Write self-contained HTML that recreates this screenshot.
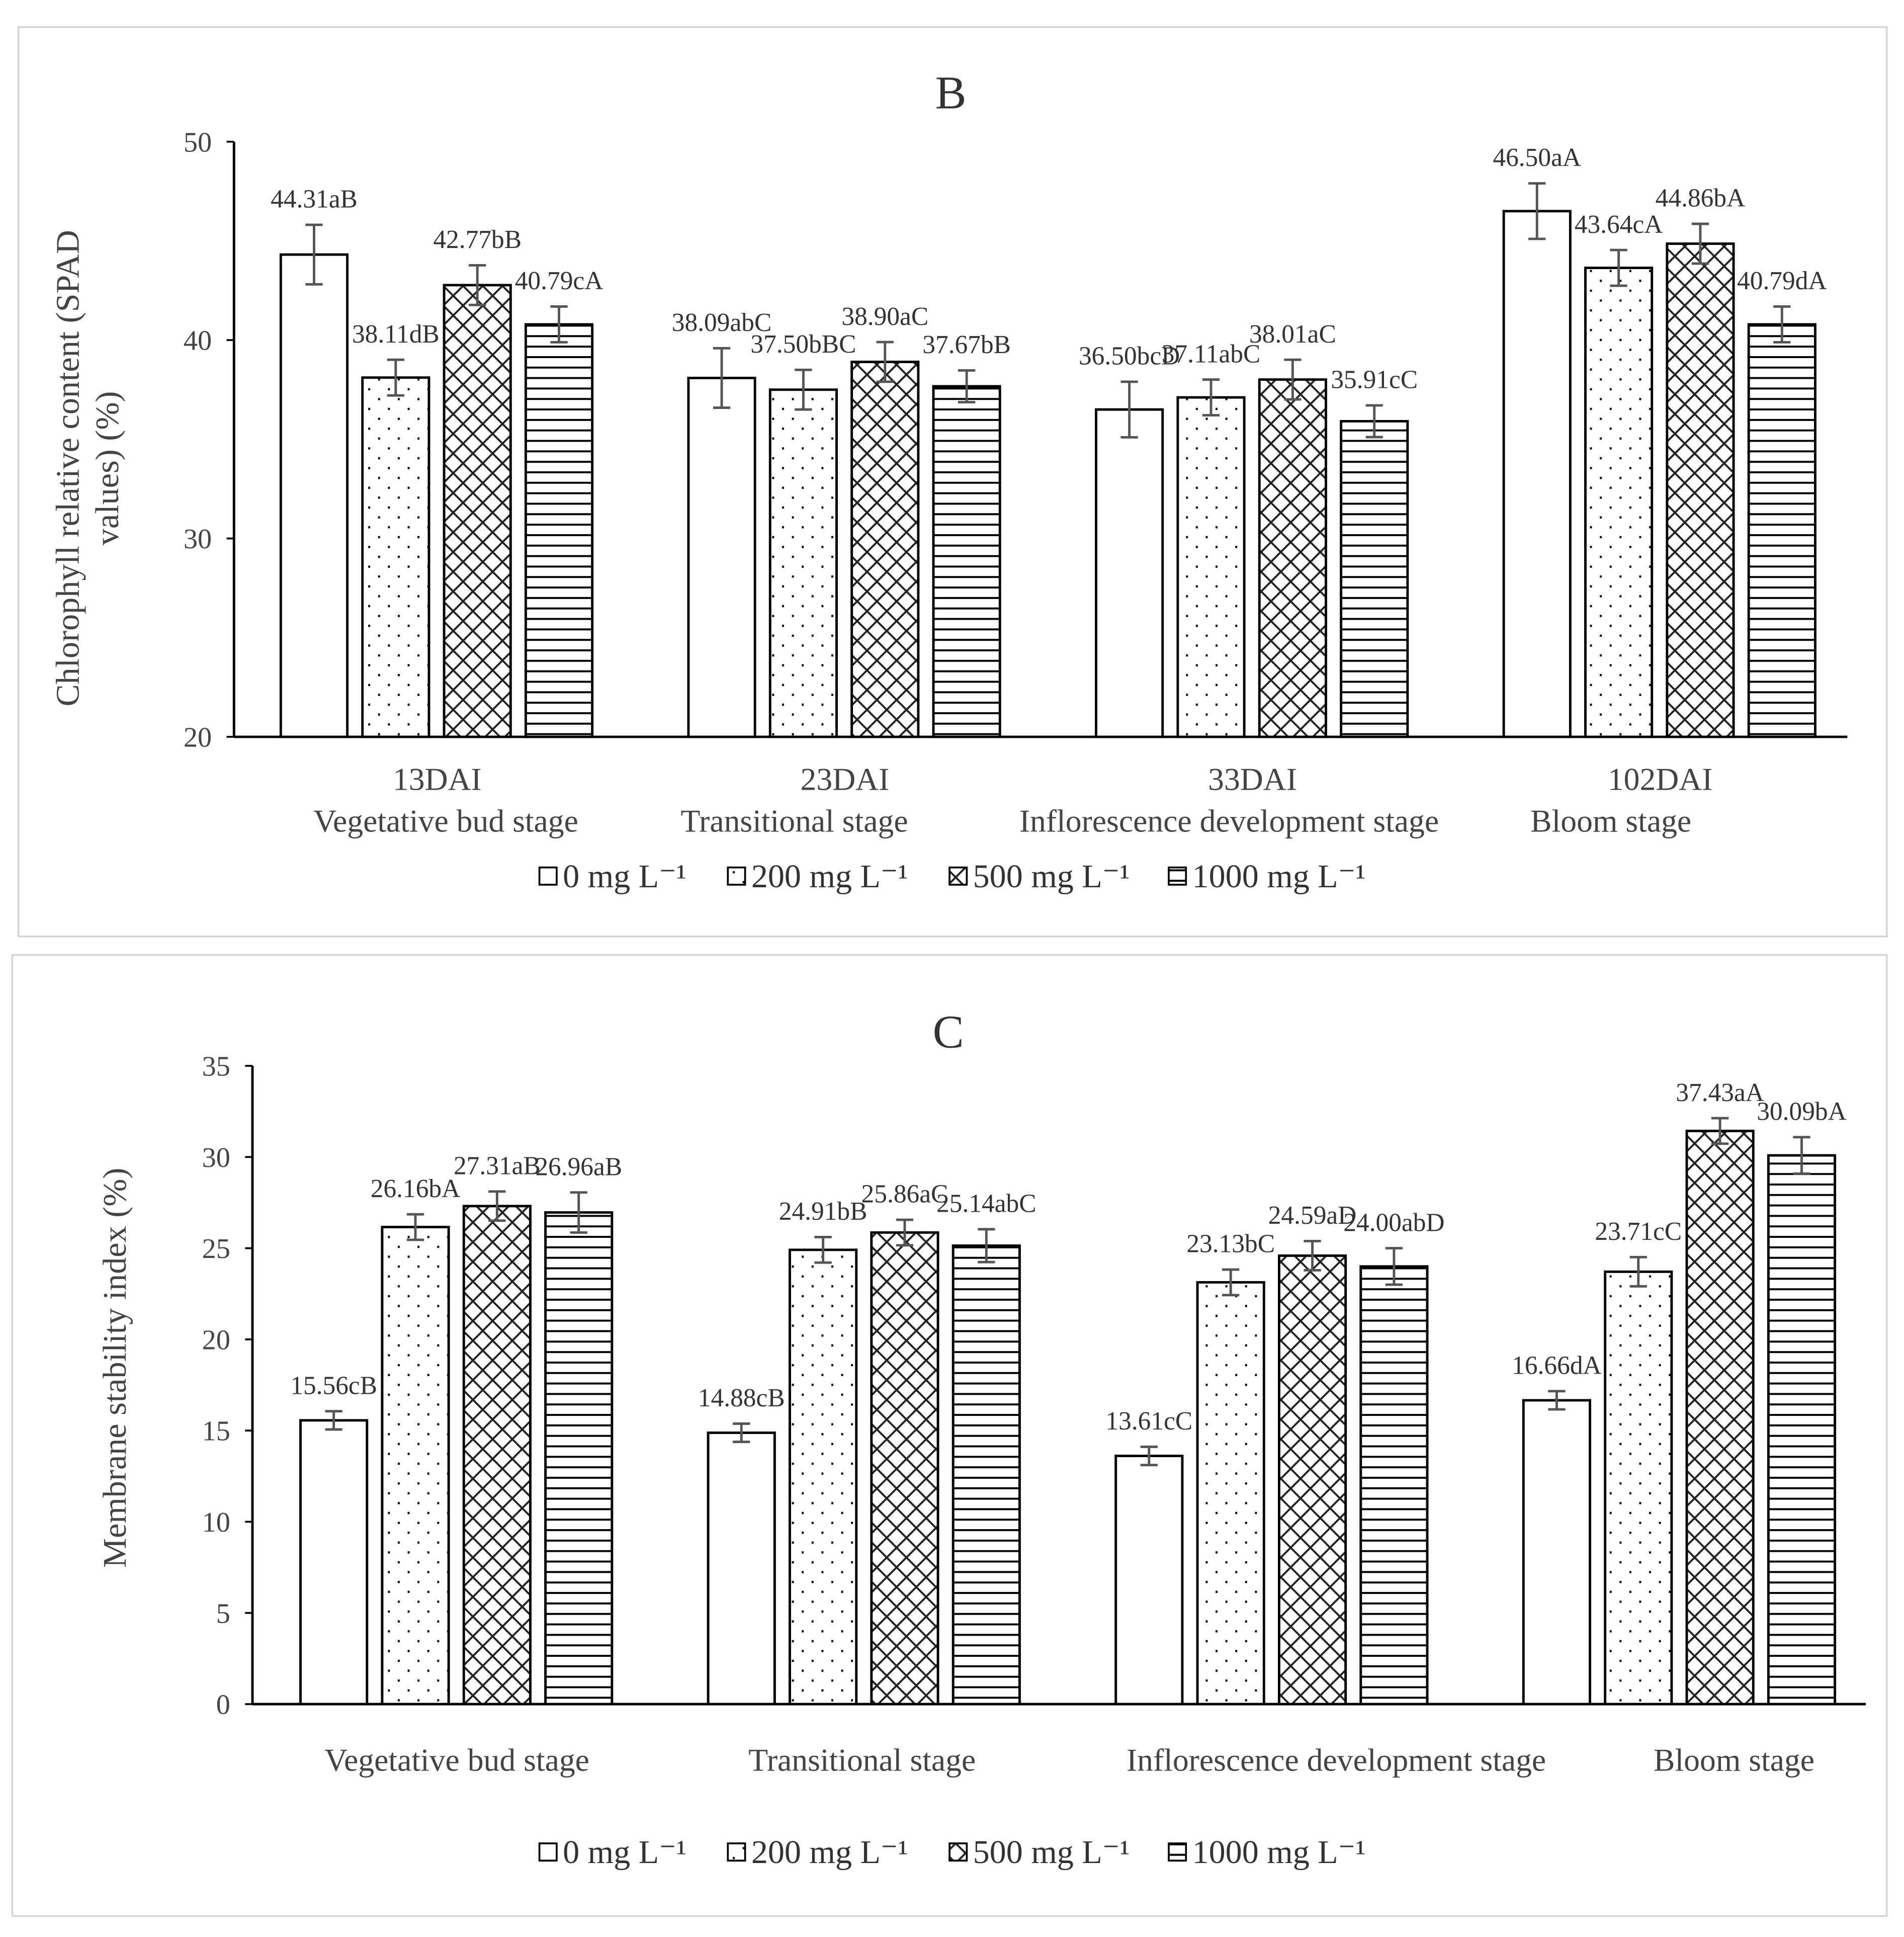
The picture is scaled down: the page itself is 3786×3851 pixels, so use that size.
<!DOCTYPE html>
<html><head><meta charset="utf-8"><style>
html,body{margin:0;padding:0;background:#fff}
svg{display:block}
text{font-family:"Liberation Serif",serif}
</style></head><body>
<svg id="s" width="3786" height="3851" viewBox="0 0 1546 1572" preserveAspectRatio="none" xmlns="http://www.w3.org/2000/svg">
<defs>
<pattern id="pDots" patternUnits="userSpaceOnUse" width="16" height="16"><rect width="16" height="16" fill="#fff"/><rect x="3" y="3" width="1.6" height="1.8" fill="#000"/><rect x="11" y="11" width="1.6" height="1.8" fill="#000"/></pattern>
<pattern id="pCross" patternUnits="userSpaceOnUse" width="16" height="16"><rect width="16" height="16" fill="#fff"/><path d="M0 0L16 16M16 0L0 16" stroke="#222" stroke-width="1.6"/></pattern>
<pattern id="pHor" patternUnits="userSpaceOnUse" width="8" height="8.5"><rect width="8" height="8.5" fill="#fff"/><rect y="0" width="8" height="1.6" fill="#000"/></pattern>
</defs>
<rect x="15" y="22" width="1517" height="738" fill="#fff" stroke="#d6d6d6" stroke-width="1.5"/>
<rect x="10" y="775" width="1522" height="780" fill="#fff" stroke="#d6d6d6" stroke-width="1.5"/>
<g id="gB"></g>
<g id="gC"></g>
</svg>
<script>
const seriesNames = ["0 mg L\u207B\u00B9","200 mg L\u207B\u00B9","500 mg L\u207B\u00B9","1000 mg L\u207B\u00B9"];
const fills = ["#fff","url(#pDots)","url(#pCross)","url(#pHor)"];
const catTopB = ["13DAI","23DAI","33DAI","102DAI"];
const catB = ["Vegetative bud stage","Transitional stage","Inflorescence development stage","Bloom stage"];
const valsB = [[44.31,38.11,42.77,40.79],[38.09,37.50,38.90,37.67],[36.50,37.11,38.01,35.91],[46.50,43.64,44.86,40.79]];
const errB = [[1.5,0.9,1.0,0.9],[1.5,1.0,1.0,0.8],[1.4,0.9,1.0,0.8],[1.4,0.9,1.0,0.9]];
const labB = [["44.31aB","38.11dB","42.77bB","40.79cA"],["38.09abC","37.50bBC","38.90aC","37.67bB"],["36.50bcD","37.11abC","38.01aC","35.91cC"],["46.50aA","43.64cA","44.86bA","40.79dA"]];
const ticksB = [20,30,40,50];
const catC = ["Vegetative bud stage","Transitional stage","Inflorescence development stage","Bloom stage"];
const valsC = [[15.56,26.16,27.31,26.96],[14.88,24.91,25.86,25.14],[13.61,23.13,24.59,24.00],[16.66,23.71,31.43,30.09]];
const errC = [[0.5,0.7,0.8,1.1],[0.5,0.7,0.7,0.9],[0.5,0.7,0.8,1.0],[0.5,0.8,0.7,1.0]];
const labC = [["15.56cB","26.16bA","27.31aB","26.96aB"],["14.88cB","24.91bB","25.86aC","25.14abC"],["13.61cC","23.13bC","24.59aD","24.00abD"],["16.66dA","23.71cC","37.43aA","30.09bA"]];
const ticksC = [0,5,10,15,20,25,30,35];
const NS="http://www.w3.org/2000/svg";
function mk(p,tag,at,txt){const e=document.createElementNS(NS,tag);for(const k in at)e.setAttribute(k,at[k]);if(txt!=null)e.textContent=txt;p.appendChild(e);return e;}
function chart(g,o){
  const y=v=>o.y0-(v-o.min)/(o.max-o.min)*(o.y0-o.y1);
  const cw=331;
  const bx=(c,s)=>o.xl+c*cw+o.off+s*66.3;
  let t=mk(g,"text",{x:o.titleX,y:o.titleY,"font-size":38,"text-anchor":"middle",fill:"#333"},o.title);
  
  o.ticks.forEach(v=>{
    const e=mk(g,"text",{x:o.xl-18,y:y(v)+8,"font-size":23,"text-anchor":"end",fill:"#444"},v);
    
    const l=mk(g,"line",{x1:o.xl-6,x2:o.xl,y1:y(v),y2:y(v),stroke:"#000","stroke-width":1.5});
    
  });
  o.vals.forEach((grp,c)=>grp.forEach((v,s)=>{
    const x=bx(c,s);
    const r=mk(g,"rect",{x:x,y:y(v),width:54,height:o.y0-y(v),fill:fills[s],stroke:"#000","stroke-width":2});
    
    const e=o.err[c][s],cx=x+27;
    const eb=mk(g,"path",{d:`M${cx} ${y(v+e)}V${y(v-e)}M${cx-7} ${y(v+e)}H${cx+7}M${cx-7} ${y(v-e)}H${cx+7}`,stroke:"#555","stroke-width":2,fill:"none"});
    
    const lb=mk(g,"text",{x:cx,y:y(v+e)-14,"font-size":21,"text-anchor":"middle",fill:"#333"},o.lab[c][s]);
    
  }));
  mk(g,"line",{x1:o.xl,x2:o.xl,y1:o.y1,y2:o.y0,stroke:"#000","stroke-width":2});
  mk(g,"line",{x1:o.xl,x2:o.xr,y1:o.y0,y2:o.y0,stroke:"#000","stroke-width":2});
  o.cats.forEach((c,i)=>{
    if(o.catTop){const e=mk(g,"text",{x:o.xl+i*cw+o.off+127,y:o.catTopY,"font-size":26,"text-anchor":"middle",fill:"#444"},o.catTop[i]);
      }
    const e=mk(g,"text",{x:o.catX[i],y:o.catY,"font-size":26,"text-anchor":"middle",fill:"#444"},c);
    
  });
  const ya=mk(g,"text",{x:0,y:0,"font-size":27,"text-anchor":"middle",fill:"#444",transform:`translate(${o.ytX},${o.ytY}) rotate(-90)`});
  
  o.ytitle.forEach((line,i)=>mk(ya,"tspan",{x:0,dy:i?32:0},line));
  let lx=o.legX;
  seriesNames.forEach((n,s)=>{
    const le=mk(g,"g",{});
    
    mk(le,"rect",{x:lx,y:o.legY-16,width:14,height:14,fill:fills[s],stroke:"#000","stroke-width":1.5});
    mk(le,"text",{x:lx+19,y:o.legY,"font-size":27,fill:"#333"},n);
    lx+=[153,180,178,0][s];
  });
}
chart(document.getElementById('gB'),{min:20,max:50,y0:598,y1:115,xl:190,xr:1500,off:38,ticks:ticksB,vals:valsB,err:errB,lab:labB,cats:catB,catTop:catTopB,catTopY:641,catX:[362,645,998,1308],catY:675,title:"B",titleX:772,titleY:88,ytitle:["Chlorophyll relative content (SPAD","values) (%)"],ytX:64,ytY:380,legX:438,legY:720});
chart(document.getElementById('gC'),{min:0,max:35,y0:1383,y1:865,xl:205,xr:1515,off:39,ticks:ticksC,vals:valsC,err:errC,lab:labC,cats:catC,catX:[371,700,1085,1408],catY:1437,title:"C",titleX:770,titleY:850,ytitle:["Membrane stability index (%)"],ytX:102,ytY:1110,legX:438,legY:1512});
</script>
</body></html>
